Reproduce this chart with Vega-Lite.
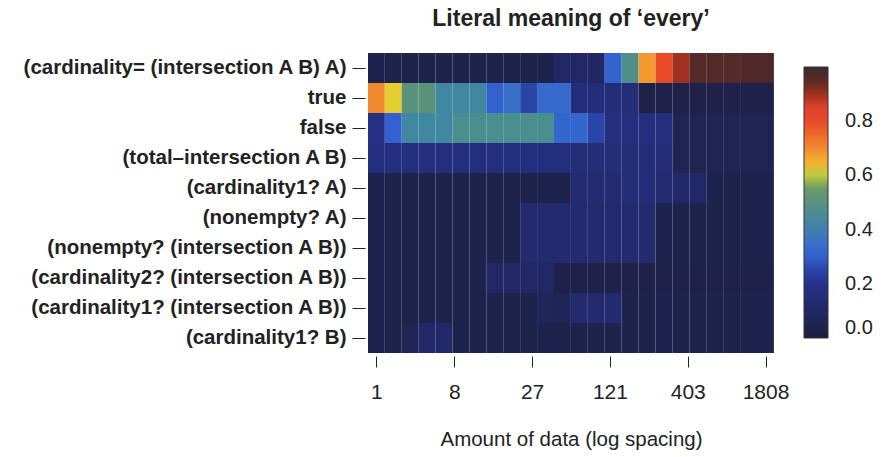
{
  "$schema": "https://vega.github.io/schema/vega-lite/v6.json",
  "autosize": "none",
  "width": 406,
  "height": 300,
  "padding": {"left": 368, "top": 53, "right": 111, "bottom": 104},
  "background": "white",
  "config": {
    "font": "Liberation Sans",
    "view": {"stroke": null}
  },
  "title": {
    "text": "Literal meaning of ‘every’",
    "fontSize": 23,
    "fontWeight": "bold",
    "color": "#222",
    "anchor": "middle",
    "offset": 22
  },
  "data": {
    "values": [
      {"formula": "(cardinality= (intersection A B) A)", "n": 0, "p": 0.04},
      {"formula": "(cardinality= (intersection A B) A)", "n": 1, "p": 0.04},
      {"formula": "(cardinality= (intersection A B) A)", "n": 2, "p": 0.04},
      {"formula": "(cardinality= (intersection A B) A)", "n": 3, "p": 0.04},
      {"formula": "(cardinality= (intersection A B) A)", "n": 4, "p": 0.04},
      {"formula": "(cardinality= (intersection A B) A)", "n": 5, "p": 0.04},
      {"formula": "(cardinality= (intersection A B) A)", "n": 6, "p": 0.04},
      {"formula": "(cardinality= (intersection A B) A)", "n": 7, "p": 0.04},
      {"formula": "(cardinality= (intersection A B) A)", "n": 8, "p": 0.04},
      {"formula": "(cardinality= (intersection A B) A)", "n": 9, "p": 0.04},
      {"formula": "(cardinality= (intersection A B) A)", "n": 10, "p": 0.04},
      {"formula": "(cardinality= (intersection A B) A)", "n": 11, "p": 0.10},
      {"formula": "(cardinality= (intersection A B) A)", "n": 12, "p": 0.10},
      {"formula": "(cardinality= (intersection A B) A)", "n": 13, "p": 0.09},
      {"formula": "(cardinality= (intersection A B) A)", "n": 14, "p": 0.31},
      {"formula": "(cardinality= (intersection A B) A)", "n": 15, "p": 0.48},
      {"formula": "(cardinality= (intersection A B) A)", "n": 16, "p": 0.68},
      {"formula": "(cardinality= (intersection A B) A)", "n": 17, "p": 0.80},
      {"formula": "(cardinality= (intersection A B) A)", "n": 18, "p": 0.90},
      {"formula": "(cardinality= (intersection A B) A)", "n": 19, "p": 0.96},
      {"formula": "(cardinality= (intersection A B) A)", "n": 20, "p": 0.96},
      {"formula": "(cardinality= (intersection A B) A)", "n": 21, "p": 0.96},
      {"formula": "(cardinality= (intersection A B) A)", "n": 22, "p": 0.97},
      {"formula": "(cardinality= (intersection A B) A)", "n": 23, "p": 0.97},

      {"formula": "true", "n": 0, "p": 0.70},
      {"formula": "true", "n": 1, "p": 0.62},
      {"formula": "true", "n": 2, "p": 0.51},
      {"formula": "true", "n": 3, "p": 0.51},
      {"formula": "true", "n": 4, "p": 0.43},
      {"formula": "true", "n": 5, "p": 0.43},
      {"formula": "true", "n": 6, "p": 0.43},
      {"formula": "true", "n": 7, "p": 0.30},
      {"formula": "true", "n": 8, "p": 0.35},
      {"formula": "true", "n": 9, "p": 0.25},
      {"formula": "true", "n": 10, "p": 0.33},
      {"formula": "true", "n": 11, "p": 0.33},
      {"formula": "true", "n": 12, "p": 0.16},
      {"formula": "true", "n": 13, "p": 0.16},
      {"formula": "true", "n": 14, "p": 0.15},
      {"formula": "true", "n": 15, "p": 0.15},
      {"formula": "true", "n": 16, "p": 0.03},
      {"formula": "true", "n": 17, "p": 0.03},
      {"formula": "true", "n": 18, "p": 0.03},
      {"formula": "true", "n": 19, "p": 0.03},
      {"formula": "true", "n": 20, "p": 0.03},
      {"formula": "true", "n": 21, "p": 0.03},
      {"formula": "true", "n": 22, "p": 0.03},
      {"formula": "true", "n": 23, "p": 0.03},

      {"formula": "false", "n": 0, "p": 0.18},
      {"formula": "false", "n": 1, "p": 0.30},
      {"formula": "false", "n": 2, "p": 0.43},
      {"formula": "false", "n": 3, "p": 0.43},
      {"formula": "false", "n": 4, "p": 0.43},
      {"formula": "false", "n": 5, "p": 0.47},
      {"formula": "false", "n": 6, "p": 0.47},
      {"formula": "false", "n": 7, "p": 0.47},
      {"formula": "false", "n": 8, "p": 0.47},
      {"formula": "false", "n": 9, "p": 0.47},
      {"formula": "false", "n": 10, "p": 0.47},
      {"formula": "false", "n": 11, "p": 0.32},
      {"formula": "false", "n": 12, "p": 0.32},
      {"formula": "false", "n": 13, "p": 0.25},
      {"formula": "false", "n": 14, "p": 0.17},
      {"formula": "false", "n": 15, "p": 0.17},
      {"formula": "false", "n": 16, "p": 0.17},
      {"formula": "false", "n": 17, "p": 0.17},
      {"formula": "false", "n": 18, "p": 0.05},
      {"formula": "false", "n": 19, "p": 0.05},
      {"formula": "false", "n": 20, "p": 0.05},
      {"formula": "false", "n": 21, "p": 0.05},
      {"formula": "false", "n": 22, "p": 0.05},
      {"formula": "false", "n": 23, "p": 0.05},

      {"formula": "(total–intersection A B)", "n": 0, "p": 0.17},
      {"formula": "(total–intersection A B)", "n": 1, "p": 0.17},
      {"formula": "(total–intersection A B)", "n": 2, "p": 0.17},
      {"formula": "(total–intersection A B)", "n": 3, "p": 0.17},
      {"formula": "(total–intersection A B)", "n": 4, "p": 0.17},
      {"formula": "(total–intersection A B)", "n": 5, "p": 0.17},
      {"formula": "(total–intersection A B)", "n": 6, "p": 0.17},
      {"formula": "(total–intersection A B)", "n": 7, "p": 0.17},
      {"formula": "(total–intersection A B)", "n": 8, "p": 0.17},
      {"formula": "(total–intersection A B)", "n": 9, "p": 0.17},
      {"formula": "(total–intersection A B)", "n": 10, "p": 0.17},
      {"formula": "(total–intersection A B)", "n": 11, "p": 0.17},
      {"formula": "(total–intersection A B)", "n": 12, "p": 0.15},
      {"formula": "(total–intersection A B)", "n": 13, "p": 0.15},
      {"formula": "(total–intersection A B)", "n": 14, "p": 0.15},
      {"formula": "(total–intersection A B)", "n": 15, "p": 0.15},
      {"formula": "(total–intersection A B)", "n": 16, "p": 0.15},
      {"formula": "(total–intersection A B)", "n": 17, "p": 0.15},
      {"formula": "(total–intersection A B)", "n": 18, "p": 0.05},
      {"formula": "(total–intersection A B)", "n": 19, "p": 0.05},
      {"formula": "(total–intersection A B)", "n": 20, "p": 0.05},
      {"formula": "(total–intersection A B)", "n": 21, "p": 0.05},
      {"formula": "(total–intersection A B)", "n": 22, "p": 0.05},
      {"formula": "(total–intersection A B)", "n": 23, "p": 0.05},

      {"formula": "(cardinality1? A)", "n": 0, "p": 0.04},
      {"formula": "(cardinality1? A)", "n": 1, "p": 0.04},
      {"formula": "(cardinality1? A)", "n": 2, "p": 0.04},
      {"formula": "(cardinality1? A)", "n": 3, "p": 0.04},
      {"formula": "(cardinality1? A)", "n": 4, "p": 0.04},
      {"formula": "(cardinality1? A)", "n": 5, "p": 0.04},
      {"formula": "(cardinality1? A)", "n": 6, "p": 0.04},
      {"formula": "(cardinality1? A)", "n": 7, "p": 0.04},
      {"formula": "(cardinality1? A)", "n": 8, "p": 0.04},
      {"formula": "(cardinality1? A)", "n": 9, "p": 0.04},
      {"formula": "(cardinality1? A)", "n": 10, "p": 0.04},
      {"formula": "(cardinality1? A)", "n": 11, "p": 0.04},
      {"formula": "(cardinality1? A)", "n": 12, "p": 0.13},
      {"formula": "(cardinality1? A)", "n": 13, "p": 0.13},
      {"formula": "(cardinality1? A)", "n": 14, "p": 0.13},
      {"formula": "(cardinality1? A)", "n": 15, "p": 0.15},
      {"formula": "(cardinality1? A)", "n": 16, "p": 0.15},
      {"formula": "(cardinality1? A)", "n": 17, "p": 0.13},
      {"formula": "(cardinality1? A)", "n": 18, "p": 0.11},
      {"formula": "(cardinality1? A)", "n": 19, "p": 0.11},
      {"formula": "(cardinality1? A)", "n": 20, "p": 0.04},
      {"formula": "(cardinality1? A)", "n": 21, "p": 0.04},
      {"formula": "(cardinality1? A)", "n": 22, "p": 0.04},
      {"formula": "(cardinality1? A)", "n": 23, "p": 0.04},

      {"formula": "(nonempty? A)", "n": 0, "p": 0.04},
      {"formula": "(nonempty? A)", "n": 1, "p": 0.04},
      {"formula": "(nonempty? A)", "n": 2, "p": 0.04},
      {"formula": "(nonempty? A)", "n": 3, "p": 0.04},
      {"formula": "(nonempty? A)", "n": 4, "p": 0.04},
      {"formula": "(nonempty? A)", "n": 5, "p": 0.04},
      {"formula": "(nonempty? A)", "n": 6, "p": 0.04},
      {"formula": "(nonempty? A)", "n": 7, "p": 0.04},
      {"formula": "(nonempty? A)", "n": 8, "p": 0.04},
      {"formula": "(nonempty? A)", "n": 9, "p": 0.12},
      {"formula": "(nonempty? A)", "n": 10, "p": 0.12},
      {"formula": "(nonempty? A)", "n": 11, "p": 0.12},
      {"formula": "(nonempty? A)", "n": 12, "p": 0.12},
      {"formula": "(nonempty? A)", "n": 13, "p": 0.12},
      {"formula": "(nonempty? A)", "n": 14, "p": 0.12},
      {"formula": "(nonempty? A)", "n": 15, "p": 0.12},
      {"formula": "(nonempty? A)", "n": 16, "p": 0.12},
      {"formula": "(nonempty? A)", "n": 17, "p": 0.04},
      {"formula": "(nonempty? A)", "n": 18, "p": 0.04},
      {"formula": "(nonempty? A)", "n": 19, "p": 0.04},
      {"formula": "(nonempty? A)", "n": 20, "p": 0.04},
      {"formula": "(nonempty? A)", "n": 21, "p": 0.04},
      {"formula": "(nonempty? A)", "n": 22, "p": 0.04},
      {"formula": "(nonempty? A)", "n": 23, "p": 0.04},

      {"formula": "(nonempty? (intersection A B))", "n": 0, "p": 0.04},
      {"formula": "(nonempty? (intersection A B))", "n": 1, "p": 0.04},
      {"formula": "(nonempty? (intersection A B))", "n": 2, "p": 0.04},
      {"formula": "(nonempty? (intersection A B))", "n": 3, "p": 0.04},
      {"formula": "(nonempty? (intersection A B))", "n": 4, "p": 0.04},
      {"formula": "(nonempty? (intersection A B))", "n": 5, "p": 0.04},
      {"formula": "(nonempty? (intersection A B))", "n": 6, "p": 0.04},
      {"formula": "(nonempty? (intersection A B))", "n": 7, "p": 0.04},
      {"formula": "(nonempty? (intersection A B))", "n": 8, "p": 0.04},
      {"formula": "(nonempty? (intersection A B))", "n": 9, "p": 0.12},
      {"formula": "(nonempty? (intersection A B))", "n": 10, "p": 0.12},
      {"formula": "(nonempty? (intersection A B))", "n": 11, "p": 0.12},
      {"formula": "(nonempty? (intersection A B))", "n": 12, "p": 0.12},
      {"formula": "(nonempty? (intersection A B))", "n": 13, "p": 0.12},
      {"formula": "(nonempty? (intersection A B))", "n": 14, "p": 0.12},
      {"formula": "(nonempty? (intersection A B))", "n": 15, "p": 0.12},
      {"formula": "(nonempty? (intersection A B))", "n": 16, "p": 0.12},
      {"formula": "(nonempty? (intersection A B))", "n": 17, "p": 0.04},
      {"formula": "(nonempty? (intersection A B))", "n": 18, "p": 0.04},
      {"formula": "(nonempty? (intersection A B))", "n": 19, "p": 0.04},
      {"formula": "(nonempty? (intersection A B))", "n": 20, "p": 0.04},
      {"formula": "(nonempty? (intersection A B))", "n": 21, "p": 0.04},
      {"formula": "(nonempty? (intersection A B))", "n": 22, "p": 0.04},
      {"formula": "(nonempty? (intersection A B))", "n": 23, "p": 0.04},

      {"formula": "(cardinality2? (intersection A B))", "n": 0, "p": 0.04},
      {"formula": "(cardinality2? (intersection A B))", "n": 1, "p": 0.04},
      {"formula": "(cardinality2? (intersection A B))", "n": 2, "p": 0.04},
      {"formula": "(cardinality2? (intersection A B))", "n": 3, "p": 0.04},
      {"formula": "(cardinality2? (intersection A B))", "n": 4, "p": 0.04},
      {"formula": "(cardinality2? (intersection A B))", "n": 5, "p": 0.04},
      {"formula": "(cardinality2? (intersection A B))", "n": 6, "p": 0.04},
      {"formula": "(cardinality2? (intersection A B))", "n": 7, "p": 0.10},
      {"formula": "(cardinality2? (intersection A B))", "n": 8, "p": 0.10},
      {"formula": "(cardinality2? (intersection A B))", "n": 9, "p": 0.10},
      {"formula": "(cardinality2? (intersection A B))", "n": 10, "p": 0.10},
      {"formula": "(cardinality2? (intersection A B))", "n": 11, "p": 0.03},
      {"formula": "(cardinality2? (intersection A B))", "n": 12, "p": 0.03},
      {"formula": "(cardinality2? (intersection A B))", "n": 13, "p": 0.03},
      {"formula": "(cardinality2? (intersection A B))", "n": 14, "p": 0.03},
      {"formula": "(cardinality2? (intersection A B))", "n": 15, "p": 0.03},
      {"formula": "(cardinality2? (intersection A B))", "n": 16, "p": 0.03},
      {"formula": "(cardinality2? (intersection A B))", "n": 17, "p": 0.03},
      {"formula": "(cardinality2? (intersection A B))", "n": 18, "p": 0.03},
      {"formula": "(cardinality2? (intersection A B))", "n": 19, "p": 0.03},
      {"formula": "(cardinality2? (intersection A B))", "n": 20, "p": 0.03},
      {"formula": "(cardinality2? (intersection A B))", "n": 21, "p": 0.03},
      {"formula": "(cardinality2? (intersection A B))", "n": 22, "p": 0.03},
      {"formula": "(cardinality2? (intersection A B))", "n": 23, "p": 0.03},

      {"formula": "(cardinality1? (intersection A B))", "n": 0, "p": 0.04},
      {"formula": "(cardinality1? (intersection A B))", "n": 1, "p": 0.04},
      {"formula": "(cardinality1? (intersection A B))", "n": 2, "p": 0.04},
      {"formula": "(cardinality1? (intersection A B))", "n": 3, "p": 0.04},
      {"formula": "(cardinality1? (intersection A B))", "n": 4, "p": 0.04},
      {"formula": "(cardinality1? (intersection A B))", "n": 5, "p": 0.04},
      {"formula": "(cardinality1? (intersection A B))", "n": 6, "p": 0.04},
      {"formula": "(cardinality1? (intersection A B))", "n": 7, "p": 0.04},
      {"formula": "(cardinality1? (intersection A B))", "n": 8, "p": 0.04},
      {"formula": "(cardinality1? (intersection A B))", "n": 9, "p": 0.04},
      {"formula": "(cardinality1? (intersection A B))", "n": 10, "p": 0.07},
      {"formula": "(cardinality1? (intersection A B))", "n": 11, "p": 0.06},
      {"formula": "(cardinality1? (intersection A B))", "n": 12, "p": 0.12},
      {"formula": "(cardinality1? (intersection A B))", "n": 13, "p": 0.12},
      {"formula": "(cardinality1? (intersection A B))", "n": 14, "p": 0.12},
      {"formula": "(cardinality1? (intersection A B))", "n": 15, "p": 0.04},
      {"formula": "(cardinality1? (intersection A B))", "n": 16, "p": 0.04},
      {"formula": "(cardinality1? (intersection A B))", "n": 17, "p": 0.04},
      {"formula": "(cardinality1? (intersection A B))", "n": 18, "p": 0.04},
      {"formula": "(cardinality1? (intersection A B))", "n": 19, "p": 0.04},
      {"formula": "(cardinality1? (intersection A B))", "n": 20, "p": 0.04},
      {"formula": "(cardinality1? (intersection A B))", "n": 21, "p": 0.04},
      {"formula": "(cardinality1? (intersection A B))", "n": 22, "p": 0.04},
      {"formula": "(cardinality1? (intersection A B))", "n": 23, "p": 0.04},

      {"formula": "(cardinality1? B)", "n": 0, "p": 0.04},
      {"formula": "(cardinality1? B)", "n": 1, "p": 0.04},
      {"formula": "(cardinality1? B)", "n": 2, "p": 0.05},
      {"formula": "(cardinality1? B)", "n": 3, "p": 0.11},
      {"formula": "(cardinality1? B)", "n": 4, "p": 0.11},
      {"formula": "(cardinality1? B)", "n": 5, "p": 0.04},
      {"formula": "(cardinality1? B)", "n": 6, "p": 0.04},
      {"formula": "(cardinality1? B)", "n": 7, "p": 0.04},
      {"formula": "(cardinality1? B)", "n": 8, "p": 0.04},
      {"formula": "(cardinality1? B)", "n": 9, "p": 0.04},
      {"formula": "(cardinality1? B)", "n": 10, "p": 0.04},
      {"formula": "(cardinality1? B)", "n": 11, "p": 0.04},
      {"formula": "(cardinality1? B)", "n": 12, "p": 0.04},
      {"formula": "(cardinality1? B)", "n": 13, "p": 0.04},
      {"formula": "(cardinality1? B)", "n": 14, "p": 0.04},
      {"formula": "(cardinality1? B)", "n": 15, "p": 0.04},
      {"formula": "(cardinality1? B)", "n": 16, "p": 0.04},
      {"formula": "(cardinality1? B)", "n": 17, "p": 0.04},
      {"formula": "(cardinality1? B)", "n": 18, "p": 0.04},
      {"formula": "(cardinality1? B)", "n": 19, "p": 0.04},
      {"formula": "(cardinality1? B)", "n": 20, "p": 0.04},
      {"formula": "(cardinality1? B)", "n": 21, "p": 0.04},
      {"formula": "(cardinality1? B)", "n": 22, "p": 0.04},
      {"formula": "(cardinality1? B)", "n": 23, "p": 0.04}
    ]
  },
  "mark": {"type": "rect", "binSpacing": 0, "xOffset": -0.6, "clip": true},
  "encoding": {
    "x": {
      "field": "n",
      "type": "quantitative",
      "bin": {"binned": true, "step": 1},
      "scale": {"domain": [0, 24], "nice": false, "zero": false},
      "axis": {
        "title": "Amount of data (log spacing)",
        "titleFontSize": 20.5,
        "titleFontWeight": "normal",
        "titleColor": "#222",
        "titlePadding": 27,
        "values": [0.5, 5.1, 9.7, 14.3, 18.9, 23.5],
        "labelExpr": "datum.value < 1 ? '1' : datum.value < 6 ? '8' : datum.value < 10 ? '27' : datum.value < 15 ? '121' : datum.value < 19 ? '403' : '1808'",
        "labelFontSize": 21,
        "labelColor": "#222",
        "labelPadding": 14,
        "labelFlush": false,
        "labelOverlap": false,
        "domain": false,
        "grid": false,
        "ticks": true,
        "tickSize": 11,
        "tickColor": "#222",
        "tickWidth": 1,
        "offset": 3
      }
    },
    "y": {
      "field": "formula",
      "type": "nominal",
      "sort": [
        "(cardinality= (intersection A B) A)",
        "true",
        "false",
        "(total–intersection A B)",
        "(cardinality1? A)",
        "(nonempty? A)",
        "(nonempty? (intersection A B))",
        "(cardinality2? (intersection A B))",
        "(cardinality1? (intersection A B))",
        "(cardinality1? B)"
      ],
      "scale": {"paddingInner": 0, "paddingOuter": 0},
      "axis": {
        "title": null,
        "labelFontSize": 20.5,
        "labelFontWeight": "bold",
        "labelColor": "#222",
        "labelPadding": 6,
        "labelLimit": 400,
        "domain": false,
        "grid": false,
        "tickSize": 13,
        "tickColor": "#222",
        "tickWidth": 1,
        "offset": 3
      }
    },
    "color": {
      "field": "p",
      "type": "quantitative",
      "scale": {
        "domain": [0, 0.1, 0.2, 0.25, 0.3, 0.35, 0.4, 0.45, 0.5, 0.57, 0.61, 0.65, 0.7, 0.75, 0.8, 0.85, 0.9, 0.95, 1.0],
        "range": ["#1c1f3e", "#222866", "#25318a", "#2a45a8", "#3460d0", "#3a70c8", "#4080b0", "#4a8a98", "#5a9080", "#7a9a5a", "#dcd834", "#f5b030", "#f08a30", "#ee6a2a", "#e84a2a", "#e0402a", "#a03020", "#5a2a22", "#3a2a2e"],
        "clamp": true
      },
      "legend": {
        "type": "gradient",
        "title": null,
        "orient": "none",
        "legendX": 436,
        "legendY": 14,
        "direction": "vertical",
        "gradientLength": 271,
        "gradientThickness": 24,
        "gradientStrokeColor": "#333",
        "gradientStrokeWidth": 1,
        "values": [0, 0.2, 0.4, 0.6, 0.8],
        "format": ".1f",
        "labelFontSize": 20,
        "labelColor": "#222",
        "labelOffset": 17,
        "labelBaseline": "middle",
        "labelOverlap": false
      }
    }
  }
}
